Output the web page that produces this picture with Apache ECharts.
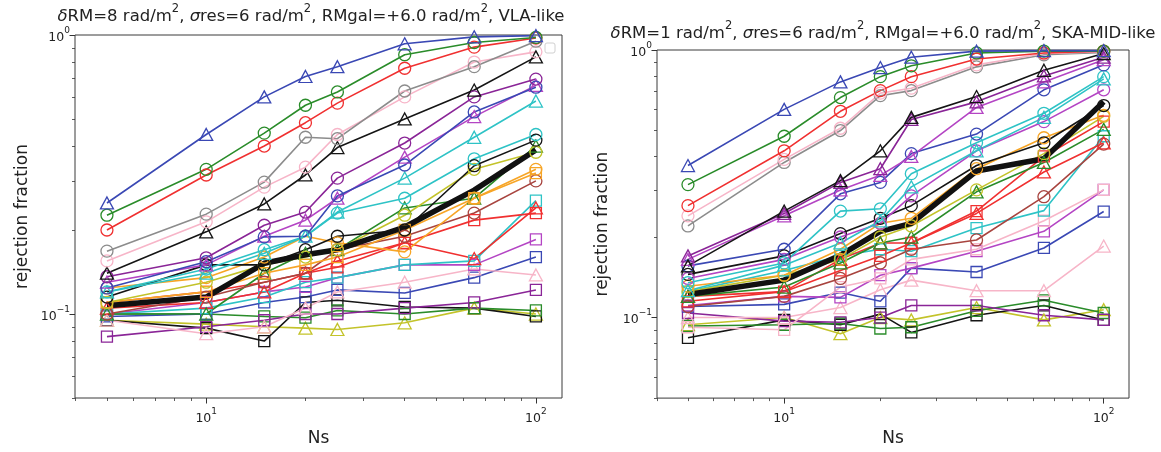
<!DOCTYPE html>
<html><head><meta charset="utf-8">
<script src="https://cdn.jsdelivr.net/npm/echarts@6/dist/echarts.min.js"></script>
<style>html,body{margin:0;padding:0;background:#fff}#c{width:1161px;height:452px}</style>
</head><body><div id="c"></div>
<script>
// ---------- data ----------
const ns = [5, 10, 15, 20, 25, 40, 65, 100];
const xMajorTicks = [10, 100];
const xMinorTicks = [4, 5, 6, 7, 8, 9, 20, 30, 40, 50, 60, 70, 80, 90];
const yMajorTicks = [0.1, 1];
const yMinorTicks = [0.05, 0.06, 0.07, 0.08, 0.09, 0.2, 0.3, 0.4, 0.5, 0.6, 0.7, 0.8, 0.9];

// left panel: VLA-like
const vlaBlueTri    = [0.25, 0.44, 0.60, 0.71, 0.77, 0.93, 0.985, 0.995];
const vlaGreenCirc  = [0.226, 0.33, 0.445, 0.56, 0.625, 0.85, 0.94, 0.98];
const vlaRedCirc    = [0.20, 0.315, 0.40, 0.485, 0.57, 0.76, 0.905, 0.975];
const vlaGrayCirc   = [0.168, 0.228, 0.297, 0.43, 0.425, 0.63, 0.77, 0.95];
const vlaPinkCirc   = [0.155, 0.214, 0.285, 0.336, 0.44, 0.60, 0.80, 0.87];
const vlaBlackTri   = [0.14, 0.197, 0.248, 0.315, 0.395, 0.50, 0.635, 0.835];
const vlaPurpleCirc = [0.136, 0.159, 0.208, 0.232, 0.307, 0.41, 0.60, 0.695];
const vlaBlueCirc   = [0.124, 0.154, 0.189, 0.19, 0.265, 0.342, 0.53, 0.65];
const vlaMagentaTri = [0.13, 0.15, 0.19, 0.217, 0.26, 0.365, 0.51, 0.66];
const vlaCyanTri    = [0.12, 0.14, 0.165, 0.19, 0.232, 0.307, 0.43, 0.58];
const vlaCyanCirc   = [0.12, 0.145, 0.17, 0.19, 0.23, 0.26, 0.36, 0.44];
const vlaBlackCirc  = [0.115, 0.15, 0.15, 0.17, 0.19, 0.20, 0.34, 0.42];
const vlaOliveCirc  = [0.11, 0.13, 0.15, 0.16, 0.17, 0.226, 0.33, 0.38];
const vlaOrangeCirc = [0.124, 0.135, 0.16, 0.19, 0.18, 0.167, 0.26, 0.33];
const vlaOrangeSq   = [0.11, 0.12, 0.14, 0.15, 0.16, 0.20, 0.26, 0.32];
const vlaBrownCirc  = [0.10, 0.115, 0.13, 0.14, 0.17, 0.19, 0.23, 0.30];
const vlaGreenTri   = [0.10, 0.10, 0.14, 0.165, 0.17, 0.24, 0.26, 0.40];
const vlaRedSq      = [0.11, 0.12, 0.13, 0.14, 0.147, 0.18, 0.217, 0.23];
const vlaRedTri     = [0.105, 0.11, 0.12, 0.14, 0.155, 0.18, 0.158, 0.24];
const vlaCyanSq     = [0.10, 0.105, 0.115, 0.13, 0.135, 0.15, 0.155, 0.255];
const vlaMagentaSq  = [0.10, 0.11, 0.12, 0.125, 0.135, 0.15, 0.15, 0.185];
const vlaPinkTri    = [0.095, 0.085, 0.09, 0.105, 0.12, 0.13, 0.145, 0.138];
const vlaBlueSq     = [0.098, 0.10, 0.11, 0.115, 0.122, 0.119, 0.135, 0.16];
const vlaPurpleSq   = [0.083, 0.09, 0.095, 0.10, 0.10, 0.105, 0.11, 0.122];
const vlaGreenSq    = [0.10, 0.10, 0.098, 0.097, 0.103, 0.10, 0.105, 0.103];
const vlaBlackSq    = [0.095, 0.089, 0.08, 0.11, 0.112, 0.106, 0.105, 0.098];
const vlaOliveTri   = [0.095, 0.092, 0.09, 0.089, 0.088, 0.093, 0.105, 0.10];
const vlaMean       = [0.107, 0.115, 0.152, 0.163, 0.17, 0.205, 0.278, 0.387];

// right panel: SKA-MID-like
const skaBlueTri    = [0.37, 0.60, 0.76, 0.86, 0.94, 0.99, 0.995, 0.995];
const skaGreenCirc  = [0.314, 0.476, 0.664, 0.795, 0.873, 0.975, 0.99, 0.99];
const skaRedCirc    = [0.262, 0.42, 0.59, 0.705, 0.795, 0.925, 0.975, 0.99];
const skaPinkCirc   = [0.24, 0.39, 0.51, 0.69, 0.72, 0.88, 0.97, 0.985];
const skaGrayCirc   = [0.22, 0.38, 0.50, 0.675, 0.705, 0.865, 0.96, 0.98];
const skaBlackTri   = [0.156, 0.25, 0.325, 0.42, 0.56, 0.67, 0.84, 0.97];
const skaPurpleTri  = [0.17, 0.245, 0.32, 0.36, 0.55, 0.64, 0.80, 0.94];
const skaMagentaTri = [0.165, 0.24, 0.30, 0.34, 0.40, 0.61, 0.76, 0.92];
const skaBlueCirc   = [0.156, 0.18, 0.29, 0.32, 0.41, 0.485, 0.71, 0.88];
const skaCyanCirc   = [0.135, 0.16, 0.25, 0.255, 0.345, 0.45, 0.58, 0.795];
const skaCyanTri    = [0.126, 0.157, 0.19, 0.23, 0.308, 0.42, 0.56, 0.78];
const skaMagentaCirc= [0.14, 0.165, 0.20, 0.225, 0.285, 0.42, 0.54, 0.71];
const skaBlackCirc  = [0.145, 0.17, 0.206, 0.235, 0.262, 0.37, 0.45, 0.62];
const skaOrangeCirc = [0.131, 0.144, 0.18, 0.225, 0.235, 0.36, 0.47, 0.57];
const skaOliveCirc  = [0.125, 0.144, 0.165, 0.20, 0.22, 0.30, 0.41, 0.565];
const skaGreenTri   = [0.12, 0.13, 0.16, 0.19, 0.20, 0.295, 0.38, 0.505];
const skaRedSq      = [0.115, 0.125, 0.15, 0.17, 0.19, 0.25, 0.40, 0.54];
const skaRedTri     = [0.12, 0.125, 0.165, 0.19, 0.19, 0.245, 0.35, 0.45];
const skaBrownCirc  = [0.11, 0.12, 0.14, 0.16, 0.18, 0.195, 0.283, 0.445];
const skaCyanSq     = [0.125, 0.15, 0.17, 0.18, 0.177, 0.216, 0.251, 0.476];
const skaPinkSq     = [0.092, 0.09, 0.13, 0.14, 0.165, 0.18, 0.23, 0.30];
const skaMagentaSq  = [0.111, 0.12, 0.119, 0.144, 0.153, 0.177, 0.21, 0.30];
const skaBlueSq     = [0.11, 0.112, 0.124, 0.115, 0.153, 0.148, 0.182, 0.249];
const skaPinkTri    = [0.10, 0.10, 0.109, 0.127, 0.138, 0.126, 0.126, 0.185];
const skaPurpleSq   = [0.104, 0.097, 0.096, 0.10, 0.111, 0.111, 0.102, 0.098];
const skaGreenSq    = [0.093, 0.094, 0.095, 0.091, 0.092, 0.106, 0.116, 0.104];
const skaBlackSq    = [0.084, 0.098, 0.094, 0.103, 0.088, 0.102, 0.111, 0.098];
const skaOliveTri   = [0.094, 0.10, 0.087, 0.10, 0.098, 0.109, 0.098, 0.107];
const skaMean       = [0.122, 0.138, 0.171, 0.21, 0.225, 0.353, 0.392, 0.64];

// title pieces: [style, text]; style n = normal, i = italic (math), s = superscript
const titleLeft  = [['i','δ'],['n','RM=8 rad/m'],['s','2'],['n',', '],['i','σ'],['n','res=6 rad/m'],['s','2'],['n',', RMgal=+6.0 rad/m'],['s','2'],['n',', VLA-like']];
const titleRight = [['i','δ'],['n','RM=1 rad/m'],['s','2'],['n',', '],['i','σ'],['n','res=6 rad/m'],['s','2'],['n',', RMgal=+6.0 rad/m'],['s','2'],['n',', SKA-MID-like']];
const xName = 'Ns';
const yName = 'rejection fraction';

// ---------- styles ----------
const C = {
  blue: '#3a48b4', green: '#2a8c2a', red: '#f03030', gray: '#8c8c8c', pink: '#f7b5c8',
  black: '#151515', purple: '#8a2597', magenta: '#b445c4', cyan: '#2ec3c6', olive: '#c3c32a',
  orange: '#f7a526', brown: '#a8443f'
};
const SYM = { c: 'circle', t: 'triangle', s: 'rect' };

const leftSeries = [
  [vlaOliveTri, 'olive', 't'], [vlaBlackSq, 'black', 's'], [vlaGreenSq, 'green', 's'],
  [vlaPurpleSq, 'purple', 's'], [vlaBlueSq, 'blue', 's'], [vlaPinkTri, 'pink', 't'],
  [vlaMagentaSq, 'magenta', 's'], [vlaCyanSq, 'cyan', 's'], [vlaRedTri, 'red', 't'],
  [vlaRedSq, 'red', 's'], [vlaGreenTri, 'green', 't'], [vlaBrownCirc, 'brown', 'c'],
  [vlaOrangeSq, 'orange', 's'], [vlaOrangeCirc, 'orange', 'c'], [vlaOliveCirc, 'olive', 'c'],
  [vlaBlackCirc, 'black', 'c'], [vlaCyanCirc, 'cyan', 'c'], [vlaCyanTri, 'cyan', 't'],
  [vlaMagentaTri, 'magenta', 't'], [vlaBlueCirc, 'blue', 'c'], [vlaPurpleCirc, 'purple', 'c'],
  [vlaBlackTri, 'black', 't'], [vlaPinkCirc, 'pink', 'c'], [vlaGrayCirc, 'gray', 'c'],
  [vlaRedCirc, 'red', 'c'], [vlaGreenCirc, 'green', 'c'], [vlaBlueTri, 'blue', 't']
];
const rightSeries = [
  [skaOliveTri, 'olive', 't'], [skaBlackSq, 'black', 's'], [skaGreenSq, 'green', 's'],
  [skaPurpleSq, 'purple', 's'], [skaPinkTri, 'pink', 't'], [skaBlueSq, 'blue', 's'],
  [skaMagentaSq, 'magenta', 's'], [skaPinkSq, 'pink', 's'], [skaCyanSq, 'cyan', 's'],
  [skaBrownCirc, 'brown', 'c'], [skaRedTri, 'red', 't'], [skaRedSq, 'red', 's'],
  [skaGreenTri, 'green', 't'], [skaOliveCirc, 'olive', 'c'], [skaOrangeCirc, 'orange', 'c'],
  [skaBlackCirc, 'black', 'c'], [skaMagentaCirc, 'magenta', 'c'], [skaCyanTri, 'cyan', 't'],
  [skaCyanCirc, 'cyan', 'c'], [skaBlueCirc, 'blue', 'c'], [skaMagentaTri, 'magenta', 't'],
  [skaPurpleTri, 'purple', 't'], [skaBlackTri, 'black', 't'], [skaGrayCirc, 'gray', 'c'],
  [skaPinkCirc, 'pink', 'c'], [skaRedCirc, 'red', 'c'], [skaGreenCirc, 'green', 'c'],
  [skaBlueTri, 'blue', 't']
];

const FONT = 'DejaVu Sans';
const TXT = '#222';
function powLabel(v) {
  const e = Math.round(Math.log10(v));
  return '{b|10}{s|' + String(e).replace('-', '\u2212') + '}';
}
const tickRich = {
  b: { fontFamily: FONT, fontSize: 12.5, color: TXT, lineHeight: 18, verticalAlign: 'bottom' },
  s: { fontFamily: FONT, fontSize: 9, color: TXT, lineHeight: 18, verticalAlign: 'top' }
};

function makeSeries(list, mean, gi) {
  const out = list.map(([vals, col, m]) => ({
    type: 'line', xAxisIndex: gi * 2, yAxisIndex: gi * 2, silent: true,
    data: ns.map((x, i) => [x, vals[i]]),
    symbol: SYM[m], symbolSize: m === 't' ? [13, 12] : (m === 's' ? 11 : 12),
    lineStyle: { color: C[col], width: 1.6 },
    itemStyle: { color: 'rgba(255,255,255,0)', borderColor: C[col], borderWidth: 1.3 },
    emphasis: { disabled: true }
  }));
  out.push({
    type: 'line', xAxisIndex: gi * 2, yAxisIndex: gi * 2, silent: true,
    data: ns.map((x, i) => [x, mean[i]]), symbol: 'none',
    lineStyle: { color: '#111', width: 5.5 }, emphasis: { disabled: true }
  });
  return out;
}

function xAxes(gi) {
  const base = { type: 'log', logBase: 10, gridIndex: gi, min: 4, max: 120, position: 'bottom',
    axisLine: { show: false }, splitLine: { show: false }, minorTick: { show: false } };
  return [
    Object.assign({}, base, {
      name: xName, nameLocation: 'middle', nameGap: 30,
      nameTextStyle: { fontFamily: FONT, fontSize: 17, color: TXT },
      axisTick: { show: true, inside: false, length: 5.5, lineStyle: { color: '#333', width: 1 }, customValues: xMajorTicks },
      axisLabel: { customValues: xMajorTicks, formatter: powLabel, rich: tickRich, margin: 9 }
    }),
    Object.assign({}, base, {
      axisTick: { show: true, inside: false, length: 3, lineStyle: { color: '#333', width: 0.8 }, customValues: xMinorTicks },
      axisLabel: { show: false }
    })
  ];
}
function yAxes(gi, gap) {
  const base = { type: 'log', logBase: 10, gridIndex: gi, min: 0.05, max: 1, position: 'left',
    axisLine: { show: false }, splitLine: { show: false }, minorTick: { show: false } };
  return [
    Object.assign({}, base, {
      name: yName, nameLocation: 'middle', nameGap: gap, nameRotate: 90,
      nameTextStyle: { fontFamily: FONT, fontSize: 17, color: TXT },
      axisTick: { show: true, inside: false, length: 5.5, lineStyle: { color: '#333', width: 1 }, customValues: yMajorTicks },
      axisLabel: { customValues: yMajorTicks, formatter: powLabel, rich: tickRich, margin: 5 }
    }),
    Object.assign({}, base, {
      axisTick: { show: true, inside: false, length: 3, lineStyle: { color: '#333', width: 0.8 }, customValues: yMinorTicks },
      axisLabel: { show: false }
    })
  ];
}

function titleEl(parts, x, y) {
  return {
    type: 'text', x: x, y: y, silent: true,
    style: {
      text: parts.map(p => '{' + p[0] + '|' + p[1] + '}').join(''),
      align: 'center', verticalAlign: 'middle',
      fontFamily: FONT, fontSize: 16.5, fill: TXT,
      rich: {
        n: { fontFamily: FONT, fontSize: 16.5, fill: TXT, lineHeight: 22, verticalAlign: 'bottom' },
        i: { fontFamily: FONT, fontSize: 16.5, fontStyle: 'italic', fill: TXT, lineHeight: 22, verticalAlign: 'bottom' },
        s: { fontFamily: FONT, fontSize: 11.5, fill: TXT, lineHeight: 22, verticalAlign: 'top' }
      }
    }
  };
}

const chart = echarts.init(document.getElementById('c'), null, { renderer: 'canvas' });
chart.setOption({
  animation: false,
  backgroundColor: '#fff',
  grid: [
    { left: 75, top: 35, width: 487, height: 363, show: true, borderColor: '#3a3a3a', borderWidth: 1, backgroundColor: 'transparent' },
    { left: 657, top: 50, width: 472, height: 351, show: true, borderColor: '#3a3a3a', borderWidth: 1, backgroundColor: 'transparent' }
  ],
  xAxis: xAxes(0).concat(xAxes(1)),
  yAxis: yAxes(0, 44).concat(yAxes(1, 46)),
  series: makeSeries(leftSeries, vlaMean, 0).concat(makeSeries(rightSeries, skaMean, 1)),
  graphic: [
    titleEl(titleLeft, 311, 14),
    titleEl(titleRight, 883, 31),
    { type: 'rect', shape: { x: 545, y: 43, width: 10, height: 10, r: 2 }, silent: true,
      style: { fill: 'none', stroke: '#d0d0d0', lineWidth: 1 } }
  ]
});
</script></body></html>
